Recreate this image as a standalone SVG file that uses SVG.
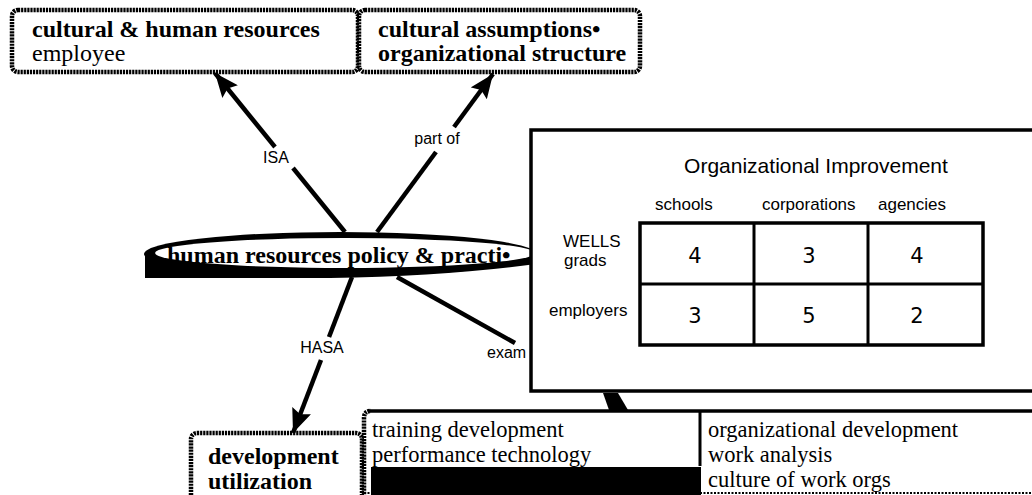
<svg xmlns="http://www.w3.org/2000/svg" width="1032" height="495" viewBox="0 0 1032 495">
  <style>
    .sb { font-family: "Liberation Serif", "Times New Roman", serif; font-weight: bold; font-size: 24px; fill: #000; }
    .sr { font-family: "Liberation Serif", "Times New Roman", serif; font-size: 24px; fill: #000; }
    .sr2 { font-family: "Liberation Serif", "Times New Roman", serif; font-size: 22.5px; fill: #000; }
    .lbl { font-family: "Liberation Sans", Arial, sans-serif; font-size: 16px; text-anchor: middle; fill: #000; }
    .hd { font-family: "Liberation Sans", Arial, sans-serif; font-size: 17px; fill: #000; }
    .ttl { font-family: "Liberation Sans", Arial, sans-serif; font-size: 21px; fill: #000; text-anchor: middle; }
    .num { font-family: "DejaVu Sans", "Liberation Sans", sans-serif; font-size: 21px; fill: #000; text-anchor: middle; }
    .conn { stroke: #000; stroke-width: 4.5; fill: none; }
    .dot { fill: #fff; stroke: #000; stroke-width: 4.5; stroke-dasharray: 2.2 0.9; }
    .solid { fill: #fff; stroke: #000; stroke-width: 3.5; }
    .rule { stroke: #000; stroke-width: 3; fill: none; }
  </style>
  <defs>
    <marker id="ah" viewBox="0 0 24 20" refX="24" refY="10" markerWidth="24" markerHeight="20" markerUnits="userSpaceOnUse" orient="auto">
      <path d="M0,0 L24,10 L0,20 L4,10 Z" fill="#000"/>
    </marker>
  </defs>
  <rect width="1032" height="495" fill="#fff"/>

  <g id="connectors">
    <line class="conn" x1="345" y1="232" x2="293" y2="168"/>
    <line class="conn" x1="275" y1="147" x2="215" y2="73" marker-end="url(#ah)"/>
    <text class="lbl" x="276" y="163">ISA</text>
    <line class="conn" x1="377" y1="232" x2="436" y2="152"/>
    <line class="conn" x1="454" y1="127" x2="493" y2="74" marker-end="url(#ah)"/>
    <text class="lbl" x="437" y="144">part of</text>
    <line class="conn" x1="352" y1="277" x2="329" y2="337"/>
    <line class="conn" x1="321" y1="360" x2="293" y2="433" marker-end="url(#ah)"/>
    <text class="lbl" x="322" y="353">HASA</text>
    <line class="conn" x1="397" y1="277" x2="515" y2="343"/>
    <text class="lbl" x="487" y="358" style="text-anchor:start">exam</text>
    <polygon points="603,393 618,393 628,410 609,410" fill="#000"/>
  </g>

  <g id="node-hr-policy">
    <path d="M145,247 L145,278 L330,278 Q450,276 536,264 L536,254 L145,254 Z" fill="#000"/>
    <ellipse cx="340" cy="254" rx="196" ry="22" fill="#000"/>
    <ellipse cx="345" cy="253" rx="190" ry="15" fill="#fff"/>
    <text class="sb" x="167" y="263">human resources policy &amp; practi•</text>
  </g>

  <g id="node-cultural-hr">
    <rect class="dot" x="12" y="10" width="346" height="62" rx="6"/>
    <text class="sb" x="32" y="37">cultural &amp; human resources</text>
    <text class="sr" x="32" y="61">employee</text>
  </g>

  <g id="node-cultural-assumptions">
    <rect class="dot" x="359" y="10" width="281" height="62" rx="6"/>
    <text class="sb" x="378" y="37">cultural assumptions•</text>
    <text class="sb" x="378" y="61">organizational structure</text>
  </g>

  <g id="node-org-improvement">
    <rect class="solid" x="531" y="130" width="520" height="261"/>
    <text class="ttl" x="816" y="173">Organizational Improvement</text>
    <text class="hd" x="655" y="210">schools</text>
    <text class="hd" x="762" y="210">corporations</text>
    <text class="hd" x="878" y="210">agencies</text>
    <text class="hd" x="563" y="247">WELLS</text>
    <text class="hd" x="564" y="266">grads</text>
    <text class="hd" x="549" y="316">employers</text>
    <rect x="640" y="223" width="343" height="122" fill="none" stroke="#000" stroke-width="3.5"/>
    <line class="rule" x1="640" y1="284" x2="983" y2="284"/>
    <line class="rule" x1="754" y1="223" x2="754" y2="345"/>
    <line class="rule" x1="868" y1="223" x2="868" y2="345"/>
    <text class="num" x="695" y="263">4</text>
    <text class="num" x="809" y="263">3</text>
    <text class="num" x="917" y="263">4</text>
    <text class="num" x="695" y="323">3</text>
    <text class="num" x="809" y="323">5</text>
    <text class="num" x="917" y="323">2</text>
  </g>

  <g id="node-development">
    <rect class="dot" x="191" y="433" width="171" height="75" rx="6"/>
    <text class="sb" x="208" y="464">development</text>
    <text class="sb" x="208" y="489">utilization</text>
  </g>

  <g id="node-examples">
    <rect x="364" y="411" width="680" height="90" fill="#fff"/>
    <path d="M364,497 L364,418 Q364,411 371,411" fill="none" stroke="#000" stroke-width="4.5" stroke-dasharray="2.2 0.9"/>
    <line x1="368" y1="411" x2="1040" y2="411" stroke="#000" stroke-width="3.5"/>
    <line x1="364" y1="493" x2="1040" y2="493" stroke="#000" stroke-width="2" stroke-dasharray="2 1.5"/>
    <line class="rule" x1="700" y1="411" x2="700" y2="466"/>
    <rect x="371" y="467" width="330" height="28" fill="#000"/>
    <text class="sr2" x="372" y="437">training development</text>
    <text class="sr2" x="372" y="462">performance technology</text>
    <text class="sr2" x="708" y="437">organizational development</text>
    <text class="sr2" x="708" y="462">work analysis</text>
    <text class="sr2" x="708" y="487">culture of work orgs</text>
  </g>
</svg>
